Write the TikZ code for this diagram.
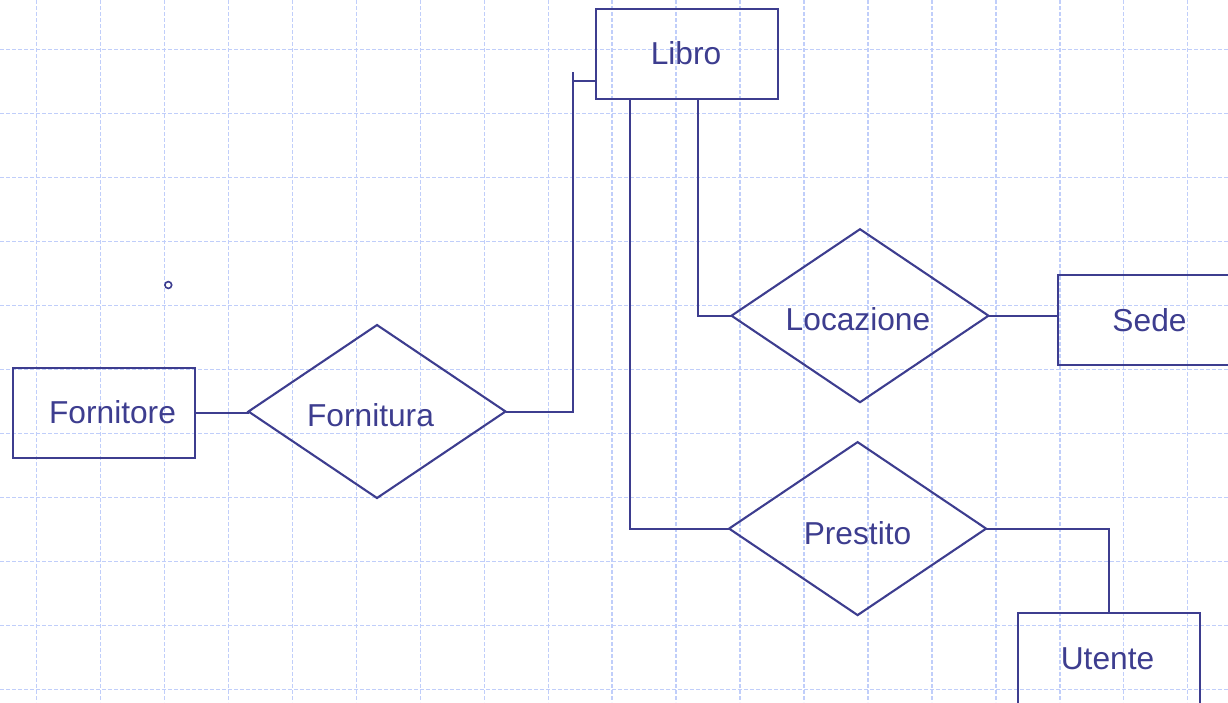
\documentclass[tikz,border=0pt]{standalone}
\usepackage{fontspec}
\setmainfont{Liberation Sans}
\usetikzlibrary{shapes.geometric}
\definecolor{ink}{RGB}{61,61,143}
\definecolor{gridc}{RGB}{192,206,250}
\tikzset{
  ent/.style={draw=ink, line width=2.1pt, rectangle, minimum width=182pt, minimum height=90pt, inner sep=0pt, outer sep=0pt},
  rel/.style={draw=ink, line width=2.1pt, diamond, minimum width=257pt, minimum height=173pt, inner sep=0pt, outer sep=0pt},
  conn/.style={draw=ink, line width=2pt},
  lbl/.style={text=ink, anchor=base, inner sep=0pt, font=\fontsize{31.7}{38}\selectfont},
  gridline/.style={draw=gridc, line width=1.4pt, dash pattern=on 4pt off 2pt}
}
\begin{document}
\begin{tikzpicture}[x=1pt, y=-1pt]
\useasboundingbox (0,0) rectangle (1228,702);
\clip (0,0) rectangle (1228,702);
% grid
\foreach \k in {0,...,18} {
  \draw[gridline] ({36.6+63.95*\k},0) -- ({36.6+63.95*\k},702);
}
\foreach \k in {0,...,10} {
  \draw[gridline] (0,{49.3+64*\k}) -- (1228,{49.3+64*\k});
}
% entities
\node[ent] (libro) at (686.7,53.9) {};
\node[ent] (fornitore) at (103.9,412.7) {};
\node[ent, minimum width=200pt] (sede) at (1158,320) {};
\node[ent, minimum height=120pt] (utente) at (1109.35,672.7) {};
% relationships
\node[rel] (fornitura) at (377,411.5) {};
\node[rel] (locazione) at (860,315.7) {};
\node[rel] (prestito) at (857.6,528.6) {};
% labels
\node[lbl] (tlibro) at (686,64) {Libro};
\node[lbl] (tfornitore) at (112.5,423.3) {Fornitore};
\node[lbl] (tfornitura) at (370.5,426.7) {Fornitura};
\node[lbl] (tlocazione) at (858,330.7) {Locazione};
\node[lbl] (tprestito) at (857.5,544) {Prestito};
\node[lbl] (tsede) at (1149.5,331.7) {Sede};
\node[lbl] (tutente) at (1107.5,669.3) {Utente};
% coordinates
\coordinate (tick) at (573.3,72);
\coordinate (lk) at (libro.west |- 0,81);
\coordinate (lb1) at (630,98.7);
\coordinate (lb2) at (698.3,98.7);
% connectors
\draw[conn] (fornitore.east) -- (fornitore.east -| fornitura.west);
\draw[conn] (fornitura.east) -| (tick);
\draw[conn] (tick |- lk) -- (lk);
\draw[conn] (lb2) |- (locazione.west);
\draw[conn] (lb1) |- (prestito.west);
\draw[conn] (locazione.east) -- (sede.west |- locazione.east);
\draw[conn] (prestito.east) -| (utente.north);
% small circle
\draw[ink, line width=1.6pt] (168.3,285) circle (3.4pt);
\end{tikzpicture}
\end{document}
